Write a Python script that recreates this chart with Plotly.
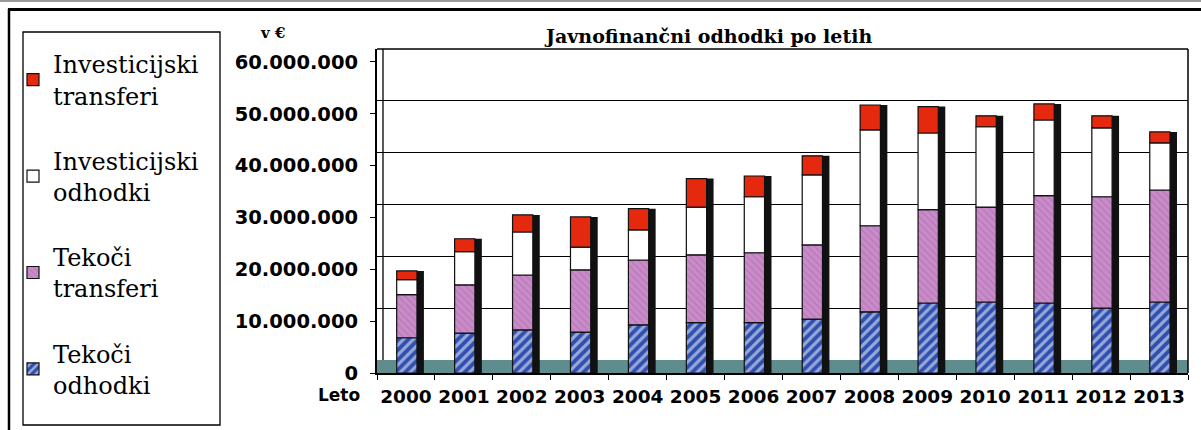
import plotly.graph_objects as go
import numpy as np

# ---------------- data (millions of EUR) ----------------
years = ['2000', '2001', '2002', '2003', '2004', '2005', '2006',
         '2007', '2008', '2009', '2010', '2011', '2012', '2013']
tekoci_odhodki = [6.8, 7.7, 8.3, 7.9, 9.3, 9.7, 9.7, 10.4, 11.8, 13.5, 13.7, 13.5, 12.5, 13.7]
tekoci_transferi = [8.3, 9.3, 10.6, 12.0, 12.5, 13.1, 13.5, 14.3, 16.6, 18.0, 18.3, 20.7, 21.5, 21.6]
investicijski_odhodki = [2.9, 6.4, 8.3, 4.4, 5.8, 9.2, 10.8, 13.5, 18.5, 14.8, 15.5, 14.6, 13.3, 9.1]
investicijski_transferi = [1.7, 2.5, 3.3, 5.8, 4.1, 5.5, 4.0, 3.7, 4.8, 5.1, 2.1, 3.1, 2.3, 2.1]
y_ticks = [0, 10e6, 20e6, 30e6, 40e6, 50e6, 60e6]

series = [
    ('Tekoči<br>odhodki', tekoci_odhodki),
    ('Tekoči<br>transferi', tekoci_transferi),
    ('Investicijski<br>odhodki', investicijski_odhodki),
    ('Investicijski<br>transferi', investicijski_transferi),
]

# ---------------- geometry helpers ----------------
W, H = 1201, 430
L, R, T, B = 377, 13, 49, 57


def px(x):
    return (x - L) / (W - L - R)


def py(y):
    return (H - B - y) / (H - T - B)


styles = [
    dict(color='#3050b0', pattern=dict(shape='/', bgcolor='#3050b0', fgcolor='white',
                                       size=7, solidity=0.45)),
    dict(color='#c486c4', pattern=dict(shape='\\', bgcolor='#c98cc9', fgcolor='#a463a4',
                                       size=5, solidity=0.25)),
    dict(color='white'),
    dict(color='#e5290e'),
]

fig = go.Figure()

vals = [np.array(v) * 1e6 for _, v in series]
total = np.sum(vals, axis=0)

# dark 3D side of every column
fig.add_trace(go.Bar(x=years, y=total, base=0, width=0.47, offset=-0.16,
                     marker=dict(color='#111111', line=dict(width=0)),
                     showlegend=False, hoverinfo='skip'))

base = np.zeros(len(years))
n = len(series)
for i, ((name, _), v, st) in enumerate(zip(series, vals, styles)):
    fig.add_trace(go.Bar(
        x=years, y=v, base=base.copy(), name=name, legendgroup=name,
        legendrank=n - i,
        width=0.35, offset=-0.16,
        marker=dict(**st, line=dict(color='#111111', width=1.2)),
    ))
    base = base + v

# invisible trace to activate yaxis2 gridlines
fig.add_trace(go.Scatter(x=[years[0]], y=[0], yaxis='y2', mode='markers',
                         marker=dict(opacity=0), showlegend=False, hoverinfo='skip'))

shapes = [
    # floor of the 3D chart
    dict(type='rect', xref='paper', yref='y2', x0=0, x1=1, y0=-2.5e6, y1=0,
         fillcolor='#5f8c8c', line=dict(width=0), layer='below'),
    # back edge of the left wall
    dict(type='line', xref='paper', yref='y2', x0=px(383), x1=px(383), y0=0, y1=60e6,
         line=dict(color='black', width=1.3)),
    # top and right walls
    dict(type='line', xref='paper', yref='paper', x0=0, x1=1, y0=1, y1=1,
         line=dict(color='black', width=1.5)),
    dict(type='line', xref='paper', yref='paper', x0=1, x1=1, y0=0, y1=1,
         line=dict(color='black', width=1.5)),
    # legend box
    dict(type='rect', xref='paper', yref='paper', x0=px(23), x1=px(220), y0=py(425), y1=py(32),
         line=dict(color='black', width=1.3)),
    # outer frame of the scanned figure
    dict(type='line', xref='paper', yref='paper', x0=px(8), x1=px(1201), y0=py(9.5), y1=py(9.5),
         line=dict(color='black', width=3)),
    dict(type='line', xref='paper', yref='paper', x0=px(9), x1=px(9), y0=py(430), y1=py(9),
         line=dict(color='black', width=2.5)),
    dict(type='line', xref='paper', yref='paper', x0=px(0), x1=px(1201), y0=py(1), y1=py(1),
         line=dict(color='#777777', width=1.5)),
]

annotations = [
    dict(text='Javnofinančni odhodki po letih', xref='paper', yref='paper',
         x=px(708), y=py(36), showarrow=False, xanchor='center', yanchor='middle',
         font=dict(family='DejaVu Serif', size=19, weight='bold', color='black')),
    dict(text='v €', xref='paper', yref='paper', x=px(272), y=py(33), showarrow=False,
         xanchor='center', yanchor='middle',
         font=dict(family='DejaVu Serif', size=15, weight='bold', color='black')),
    dict(text='Leto', xref='paper', yref='paper', x=px(339), y=py(395), showarrow=False,
         xanchor='center', yanchor='middle',
         font=dict(family='DejaVu Sans', size=17, weight='bold', color='black')),
]

fig.update_layout(
    width=W, height=H,
    margin=dict(l=L, r=R, t=T, b=B, pad=0),
    paper_bgcolor='white', plot_bgcolor='white',
    barmode='overlay',
    separators=',.',
    showlegend=True,
    legend=dict(x=px(13), y=py(42), xanchor='left', yanchor='top',
                traceorder='grouped', tracegroupgap=31, maxheight=420,
                font=dict(family='DejaVu Serif', size=24, color='black'),
                bgcolor='rgba(0,0,0,0)', borderwidth=0, itemwidth=30),
    xaxis=dict(type='category', showgrid=False, showline=True, linecolor='black', linewidth=1.5,
               ticks='outside', tickson='boundaries', ticklen=5, tickcolor='black',
               ticklabelstandoff=6, tickangle=0,
               tickfont=dict(family='DejaVu Sans', size=18.5, weight='bold', color='black'),
               range=[-0.5, len(years) - 0.5]),
    yaxis=dict(range=[0, 62.5e6], tickvals=y_ticks, tickformat=',d', showgrid=False,
               zeroline=False, showline=True, linecolor='black', linewidth=2,
               ticks='outside', ticklen=5, tickcolor='black', ticklabelstandoff=8,
               tickfont=dict(family='DejaVu Sans', size=19.5, weight='bold', color='black')),
    yaxis2=dict(overlaying='y', range=[-2.5e6, 60e6], tickvals=[10e6, 20e6, 30e6, 40e6, 50e6],
                showticklabels=False, ticks='', showgrid=True, gridcolor='black', gridwidth=1.3,
                zeroline=False, showline=False),
    shapes=shapes,
    annotations=annotations,
)

fig.write_html('out.html')
